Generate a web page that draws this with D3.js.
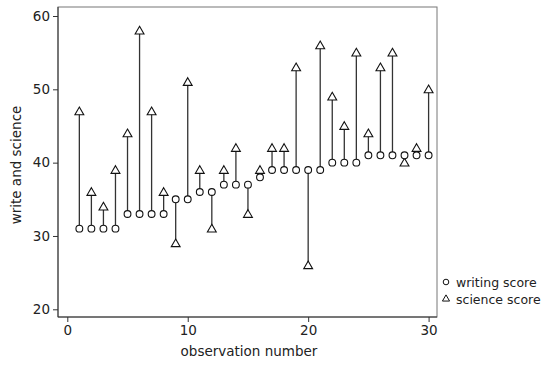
<!DOCTYPE html>
<html>
<head>
<meta charset="utf-8">
<script src="https://cdn.jsdelivr.net/npm/d3@7"></script>
<style>
  body { margin: 0; background: #fff; }
  text { font-family: "DejaVu Sans", sans-serif; fill: #222; }
</style>
</head>
<body>
<div id="chart"></div>
<script>
// observation numbers and the two scores
const observations = d3.range(1, 31);
const writing = [31, 31, 31, 31, 33, 33, 33, 33, 35, 35,
  36, 36, 37, 37, 37, 38, 39, 39, 39, 39,
  39, 40, 40, 40, 41, 41, 41, 41, 41, 41];
const science = [47, 36, 34, 39, 44, 58, 47, 36, 29, 51,
  39, 31, 39, 42, 33, 39, 42, 42, 53, 26,
  56, 49, 45, 55, 44, 53, 55, 40, 42, 50];
const xTicks = [0, 10, 20, 30];
const yTicks = [20, 30, 40, 50, 60];
const seriesNames = ['writing score', 'science score'];

const width = 545, height = 365;
const frame = { left: 58, top: 7, right: 437, bottom: 317 };

const svg = d3.select('#chart')
  .append('svg')
  .attr('width', width)
  .attr('height', height);

const xScale = d3.scaleLinear().domain([0, 30]).range([67.3, 428.6]);
const yScale = d3.scaleLinear().domain([20, 60]).range([309.3, 16]);

const data = observations.map((o, i) => ({ obs: o, w: writing[i], s: science[i] }));

// plot region frame
svg.append('rect')
  .attr('x', frame.left)
  .attr('y', frame.top)
  .attr('width', frame.right - frame.left)
  .attr('height', frame.bottom - frame.top)
  .attr('fill', 'none')
  .attr('stroke', '#777')
  .attr('stroke-width', 1);

// y axis
const yAxis = svg.append('g')
  .attr('transform', 'translate(' + frame.left + ',0)')
  .call(d3.axisLeft(yScale).tickValues(yTicks).tickSize(5).tickPadding(3));
yAxis.select('.domain')
  .attr('d', 'M0,' + frame.top + 'V' + frame.bottom)
  .attr('stroke', '#333');
yAxis.selectAll('.tick line').attr('stroke', '#333');
yAxis.selectAll('.tick text').attr('font-size', 13.5).attr('fill', '#222');

// x axis
const xAxis = svg.append('g')
  .attr('transform', 'translate(0,' + frame.bottom + ')')
  .call(d3.axisBottom(xScale).tickValues(xTicks).tickSize(5).tickPadding(3));
xAxis.select('.domain')
  .attr('d', 'M' + frame.left + ',0H' + frame.right)
  .attr('stroke', '#333');
xAxis.selectAll('.tick line').attr('stroke', '#333');
xAxis.selectAll('.tick text').attr('font-size', 13.5).attr('fill', '#222');

// axis titles
svg.append('text')
  .attr('transform', 'translate(21,' + 165 + ') rotate(-90)')
  .attr('text-anchor', 'middle')
  .attr('font-size', 13.5)
  .text('write and science');

svg.append('text')
  .attr('x', 249)
  .attr('y', 356)
  .attr('text-anchor', 'middle')
  .attr('font-size', 13.5)
  .text('observation number');

// spikes between the two scores
svg.append('g')
  .selectAll('line')
  .data(data)
  .enter()
  .append('line')
    .attr('x1', d => xScale(d.obs))
    .attr('x2', d => xScale(d.obs))
    .attr('y1', d => yScale(d.w))
    .attr('y2', d => yScale(d.s))
    .attr('stroke', '#333')
    .attr('stroke-width', 1.3);

const triangle = d3.symbol().type(d3.symbolTriangle).size(34);

// science score markers
svg.append('g')
  .selectAll('path')
  .data(data)
  .enter()
  .append('path')
    .attr('d', triangle)
    .attr('transform', d => 'translate(' + xScale(d.obs) + ',' + (yScale(d.s) + 0.8) + ')')
    .attr('fill', 'white')
    .attr('stroke', '#111')
    .attr('stroke-width', 1.1);

// writing score markers
svg.append('g')
  .selectAll('circle')
  .data(data)
  .enter()
  .append('circle')
    .attr('cx', d => xScale(d.obs))
    .attr('cy', d => yScale(d.w))
    .attr('r', 3.4)
    .attr('fill', 'white')
    .attr('stroke', '#111')
    .attr('stroke-width', 1.1);

// legend
const legend = svg.append('g').attr('transform', 'translate(446,0)');
legend.append('circle')
  .attr('cx', 0).attr('cy', 282).attr('r', 2.8)
  .attr('fill', 'white').attr('stroke', '#111').attr('stroke-width', 1);
legend.append('path')
  .attr('d', d3.symbol().type(d3.symbolTriangle).size(22))
  .attr('transform', 'translate(0,299)')
  .attr('fill', 'white').attr('stroke', '#111').attr('stroke-width', 1);
legend.selectAll('text')
  .data(seriesNames)
  .enter()
  .append('text')
    .attr('x', 10)
    .attr('y', (d, i) => 287 + i * 17)
    .attr('font-size', 12.5)
    .text(d => d);
</script>
</body>
</html>
